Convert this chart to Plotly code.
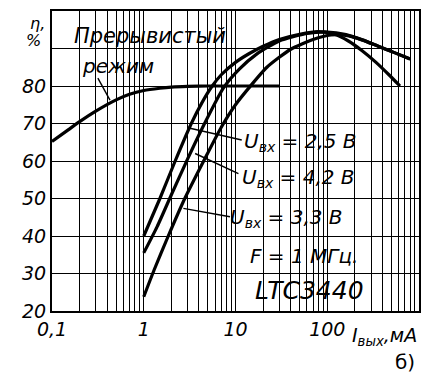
import plotly.graph_objects as go

# ---------------- data ----------------
disc_x = [0.1, 0.15, 0.2, 0.3, 0.5, 0.7, 1, 1.5, 2, 3, 5, 30]
disc_y = [65.2, 68.3, 70.5, 73.3, 76.3, 77.8, 78.8, 79.4, 79.7, 79.9, 80.0, 80.0]

u25_x = [1, 1.5, 2.2, 3.3, 4.3, 5.5, 7, 10, 14, 20, 30, 50, 80, 120, 170, 240, 340, 470, 620]
u25_y = [40, 50, 60, 70, 75.5, 79.8, 83, 86.3, 88.6, 90.6, 92.4, 93.8, 94.5, 93.8, 92, 89.4, 86.3, 83, 80]

u42_x = [1, 1.4, 2, 3, 4.6, 7.4, 11, 17, 30, 60, 100, 160, 240, 360, 540, 800]
u42_y = [35.5, 42.5, 51, 60.5, 70, 79.5, 84.5, 88.5, 92, 94, 94.4, 93.7, 92.3, 90.6, 88.9, 87.2]

u33_x = [1, 1.3, 1.85, 2.8, 4.5, 7, 10, 14, 22, 40, 70, 110, 160, 240, 360, 540, 800]
u33_y = [23.8, 31, 40, 50, 60, 69, 75, 79.5, 85, 89.8, 92.4, 93.6, 93.5, 92.3, 90.6, 88.9, 87.2]

x_ticks = [0.1, 1, 10, 100]
x_tick_labels = ["0,1", "1", "10", "100"]
x_minor = [m * 10 ** e for e in (-1, 0, 1, 2) for m in range(2, 10)] + [1000]
y_ticks = [20, 30, 40, 50, 60, 70, 80]
y_tick_labels = ["20", "30", "40", "50", "60", "70", "80"]
y_minor = [90, 100]

FONT = "DejaVu Sans"

fig = go.Figure()
line = dict(color="black", width=3.2, shape="spline", smoothing=0.6)
for xs, ys in [(disc_x, disc_y), (u25_x, u25_y), (u42_x, u42_y), (u33_x, u33_y)]:
    fig.add_trace(go.Scatter(x=xs, y=ys, mode="lines", line=line,
                             showlegend=False, hoverinfo="skip"))

# white boxes behind labels (cover grid, below curves)
boxes = [
    (0.049, 0.482, 0.843, 0.963),
    (0.008, 0.294, 0.753, 0.863),
    (0.507, 0.845, 0.516, 0.600),
    (0.507, 0.845, 0.386, 0.479),
    (0.480, 0.823, 0.266, 0.353),
    (0.512, 0.826, 0.136, 0.226),
    (0.526, 0.866, 0.019, 0.102),
]
shapes = []
for x0, x1, y0, y1 in boxes:
    shapes.append(dict(type="rect", xref="paper", yref="paper", x0=x0, x1=x1,
                       y0=y0, y1=y1, fillcolor="white", line=dict(width=0),
                       layer="between"))
leaders = [
    (0.125, 0.776, 0.158, 0.703),
    (0.517, 0.570, 0.376, 0.609),
    (0.508, 0.458, 0.390, 0.525),
    (0.485, 0.314, 0.358, 0.342),
]
for x0, y0, x1, y1 in leaders:
    shapes.append(dict(type="line", xref="paper", yref="paper", x0=x0, y0=y0,
                       x1=x1, y1=y1, line=dict(color="black", width=1.4),
                       layer="above"))

ann_font = dict(family=FONT, size=20, color="black", style="italic")
anns = [
    ("Прерывистый", 0.055, 0.917, dict(family=FONT, size=21, color="black", style="italic")),
    ("режим", 0.076, 0.816, ann_font),
    ("U<sub>вх</sub> = 2,5 В", 0.518, 0.562, ann_font),
    ("U<sub>вх</sub> = 4,2 В", 0.512, 0.443, ann_font),
    ("U<sub>вх</sub> = 3,3 В", 0.480, 0.309, ann_font),
    ("F = 1 МГц.", 0.534, 0.183, ann_font),
    ("LTC3440", 0.548, 0.069, dict(family=FONT, size=25, color="black", style="italic")),
]
annotations = []
for t, x, y, f in anns:
    annotations.append(dict(text=t, x=x, y=y, xref="paper", yref="paper",
                            xanchor="left", yanchor="middle", showarrow=False,
                            font=f))
small = dict(family=FONT, size=16, color="black", style="italic")
annotations.append(dict(text="η,", x=-0.040, y=0.958, xref="paper", yref="paper",
                        xanchor="center", yanchor="middle", showarrow=False,
                        borderpad=0, font=small))
annotations.append(dict(text="%", x=-0.050, y=0.902, xref="paper", yref="paper",
                        xanchor="center", yanchor="middle", showarrow=False,
                        borderpad=0, font=small))
annotations.append(dict(text="I<sub>вых</sub>,мА", x=1.0, y=-0.035, xref="paper", yref="paper",
                        xanchor="right", yanchor="top", showarrow=False,
                        font=dict(family=FONT, size=19, color="black", style="italic")))
annotations.append(dict(text="б)", x=0.995, y=-0.171, xref="paper", yref="paper",
                        xanchor="right", yanchor="middle", showarrow=False,
                        font=dict(family=FONT, size=20, color="black", style="normal")))

grid = dict(showgrid=True, gridcolor="black", gridwidth=1.3)
tick_font = dict(family=FONT, size=19, style="italic", color="black")

# page body adds an 8 px margin, so the figure is 8 px smaller and shifted
fig.update_layout(
    template="none",
    width=422, height=371,
    margin=dict(l=44, r=11, t=3, b=68),
    paper_bgcolor="white", plot_bgcolor="white",
    font=dict(family=FONT, size=18, color="black", style="italic"),
    shapes=shapes, annotations=annotations,
    xaxis=dict(type="log", range=[-1, 3], tickvals=x_ticks, ticktext=x_tick_labels,
               tickangle=0, **grid,
               minor=dict(tickvals=x_minor, ticks="", **grid),
               showline=True, linecolor="black", linewidth=2, mirror=True,
               ticks="", zeroline=False, automargin=False, tickfont=tick_font),
    yaxis=dict(range=[20, 100], tickvals=y_ticks, ticktext=y_tick_labels, **grid,
               minor=dict(tickvals=y_minor, ticks="", **grid),
               showline=True, linecolor="black", linewidth=2, mirror=True,
               ticks="", zeroline=False, automargin=False, tickfont=tick_font),
)

fig.write_html("out.html")
